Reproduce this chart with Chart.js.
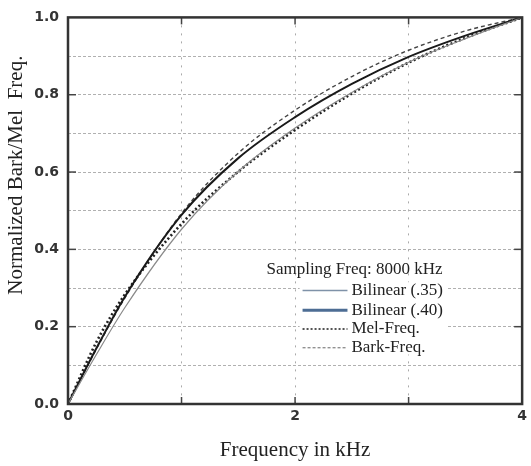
<!DOCTYPE html>
<html><head><meta charset="utf-8">
<script src="https://cdn.jsdelivr.net/npm/chart.js@4.4.1/dist/chart.umd.min.js"></script>
<style>html,body{margin:0;padding:0;background:#fff;}</style>
</head><body>
<canvas id="c" width="531" height="466"></canvas>
<script>
// ---- data ----
const freqKHz    = [0, 0.25, 0.5, 1, 1.5, 2, 2.5, 3, 3.5, 4];
const bilinear35 = [0, 0.128, 0.249, 0.452, 0.602, 0.714, 0.806, 0.884, 0.945, 1];
const bilinear40 = [0, 0.144, 0.277, 0.489, 0.636, 0.742, 0.828, 0.898, 0.953, 1];
const melFreq    = [0, 0.160, 0.283, 0.466, 0.601, 0.709, 0.803, 0.883, 0.947, 1];
const barkFreq   = [0, 0.142, 0.274, 0.493, 0.649, 0.760, 0.847, 0.915, 0.965, 1];
const xTickLabels = ['0', '2', '4'];
const yTickLabels = ['0.0', '0.2', '0.4', '0.6', '0.8', '1.0'];
const seriesNames = ['Bilinear (.35)', 'Bilinear (.40)', 'Mel-Freq.', 'Bark-Freq.'];
const legendTitle = 'Sampling Freq: 8000 kHz';
const xTitle = 'Frequency in kHz';
const yTitle = 'Normalized Bark/Mel  Freq.';

const pts = arr => arr.map((v, i) => ({x: freqKHz[i], y: v}));

const legendStyles = [
  {color: '#7f92a8', width: 1.5, dash: []},
  {color: '#4d6d94', width: 3, dash: []},
  {color: '#555', width: 2, dash: [2, 2]},
  {color: '#666', width: 1, dash: [3, 2]}
];

const framePlugin = {
  id: 'frame',
  afterDatasetsDraw(chart) {
    const {ctx, chartArea: a, scales} = chart;
    const line = (x1, y1, x2, y2) => { ctx.beginPath(); ctx.moveTo(x1, y1); ctx.lineTo(x2, y2); ctx.stroke(); };
    ctx.save();
    ctx.strokeStyle = '#444'; ctx.lineWidth = 1.5;
    for (let i = 1; i < 5; i++) {
      const y = scales.y.getPixelForValue(i * 0.2);
      line(a.left, y, a.left + 8, y);
      line(a.right - 8, y, a.right, y);
    }
    for (let v = 1; v < 4; v++) {
      const x = scales.x.getPixelForValue(v);
      line(x, a.bottom, x, a.bottom - 7);
      line(x, a.top, x, a.top + 7);
    }
    ctx.strokeStyle = '#333'; ctx.lineWidth = 2.5;
    ctx.strokeRect(a.left, a.top, a.width, a.height);
    ctx.restore();
  }
};

const labelsPlugin = {
  id: 'inlineLegend',
  afterDraw(chart) {
    const {ctx, chartArea: a} = chart;
    const X = f => a.left + f * a.width;
    const Y = f => a.top + f * a.height;
    ctx.save();
    // y-axis title
    ctx.save();
    ctx.translate(16, Y(0.408));
    ctx.rotate(-Math.PI / 2);
    ctx.font = '21px "Liberation Serif"';
    ctx.fillStyle = '#222';
    ctx.textAlign = 'center';
    ctx.textBaseline = 'middle';
    ctx.fillText(yTitle, 0, 0);
    ctx.restore();
    // legend
    ctx.fillStyle = '#fff';
    ctx.fillRect(X(0.51), Y(0.685), X(0.835) - X(0.51), Y(0.872) - Y(0.685));
    ctx.font = '17px "Liberation Serif"';
    ctx.fillStyle = '#222';
    ctx.textBaseline = 'middle';
    ctx.textAlign = 'left';
    ctx.fillText(legendTitle, X(0.437), Y(0.653));
    const rows = [0.7066, 0.7577, 0.806, 0.8546];
    seriesNames.forEach((name, i) => {
      const s = legendStyles[i];
      const y = Y(rows[i]);
      ctx.beginPath();
      ctx.setLineDash(s.dash);
      ctx.strokeStyle = s.color;
      ctx.lineWidth = s.width;
      ctx.moveTo(X(0.5165), y);
      ctx.lineTo(X(0.6154), y);
      ctx.stroke();
      ctx.setLineDash([]);
      ctx.fillText(name, X(0.624), y);
    });
    ctx.restore();
  }
};

new Chart(document.getElementById('c'), {
  type: 'line',
  data: {
    datasets: [
      {label: seriesNames[0], data: pts(bilinear35), borderColor: '#8a8a8a', borderWidth: 1.2},
      {label: seriesNames[1], data: pts(bilinear40), borderColor: '#1a1a1a', borderWidth: 2},
      {label: seriesNames[3], data: pts(barkFreq), borderColor: '#444', borderWidth: 1.4, borderDash: [4, 3]},
      {label: seriesNames[2], data: pts(melFreq), borderColor: '#222', borderWidth: 2.6, borderDash: [2, 2.5]}
    ]
  },
  options: {
    responsive: false,
    animation: false,
    devicePixelRatio: 1,
    elements: {
      point: {radius: 0},
      line: {cubicInterpolationMode: 'monotone', fill: false}
    },
    layout: {padding: {top: 12, right: 8, left: 0, bottom: 0}},
    plugins: {legend: {display: false}, tooltip: {enabled: false}},
    scales: {
      x: {
        type: 'linear', min: 0, max: 4,
        afterFit: s => { s.height = 62; },
        ticks: {
          stepSize: 1, padding: 4, color: '#333',
          font: {family: 'DejaVu Sans', weight: 'bold', size: 14},
          callback: v => (v % 2 === 0 ? xTickLabels[v / 2] : '')
        },
        grid: {color: '#aaaaaa', lineWidth: 1, drawTicks: false},
        border: {display: false, dash: [2, 6]},
        title: {display: true, text: xTitle, color: '#222',
          font: {family: 'Liberation Serif', size: 21}, padding: {top: 0, bottom: 3}}
      },
      y: {
        type: 'linear', min: 0, max: 1,
        afterFit: s => { s.width = 68; },
        ticks: {
          stepSize: 0.1, padding: 9, color: '#333',
          font: {family: 'DejaVu Sans', weight: 'bold', size: 14},
          callback: v => { const i = Math.round(v * 10); return i % 2 === 0 ? yTickLabels[i / 2] : ''; }
        },
        grid: {color: '#b0b0b0', lineWidth: 1, drawTicks: false},
        border: {display: false, dash: [3, 2]},
        title: {display: false}
      }
    }
  },
  plugins: [framePlugin, labelsPlugin]
});
</script>
</body></html>
